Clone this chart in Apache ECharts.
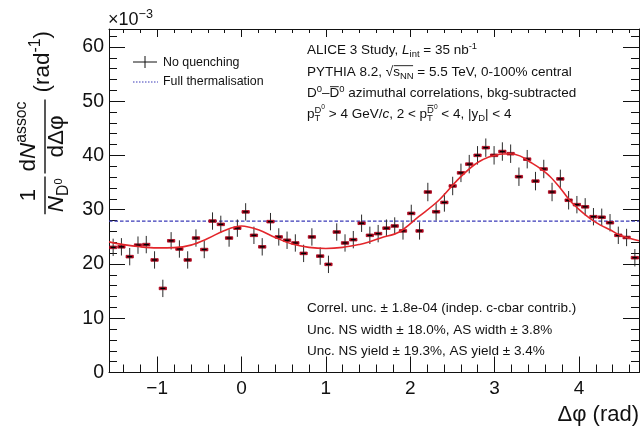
<!DOCTYPE html>
<html>
<head>
<meta charset="utf-8">
<script src="https://cdn.jsdelivr.net/npm/echarts@6/dist/echarts.min.js"></script>
<style>
  html, body { margin: 0; padding: 0; background: #fff; }
  #chart { width: 641px; height: 432px; }
</style>
</head>
<body>
<div id="chart"></div>
<script>
// Δφ histogram definition: 64 bins over [-π/2, 3π/2)
const PHI_MIN = -Math.PI / 2;
const PHI_MAX = 3 * Math.PI / 2;
const N_BINS = 64;

// D0–D0bar pair yield per bin, in units of 10^-3 rad^-1
const yields = [
  23.06, 23.16, 21.35, 23.47, 23.57, 20.74, 15.50, 24.27,
  22.76, 20.74, 24.78, 22.66, 27.91, 27.30, 24.78, 26.60,
  29.60, 25.28, 23.16, 27.80, 24.98, 24.37, 23.87, 21.95,
  24.98, 21.45, 19.93, 25.89, 23.87, 24.48, 27.50, 25.28,
  25.59, 26.60, 27.00, 26.09, 29.32, 26.09, 33.26, 29.62,
  31.34, 34.37, 36.79, 38.40, 40.02, 41.43, 40.02, 40.72,
  40.32, 36.08, 39.31, 35.27, 37.50, 33.26, 35.68, 31.74,
  30.93, 30.53, 28.71, 28.61, 27.60, 25.28, 24.88, 21.15
];
// statistical uncertainty per bin (10^-3 rad^-1)
const statErr = [
  1.6, 1.6, 1.6, 1.6, 1.6, 1.6, 1.6, 1.6,
  1.6, 1.6, 1.6, 1.6, 1.6, 1.6, 1.6, 1.6,
  1.6, 1.6, 1.6, 1.6, 1.6, 1.6, 1.6, 1.6,
  1.6, 1.6, 1.6, 1.6, 1.6, 1.6, 1.6, 1.6,
  1.6, 1.6, 1.6, 1.6, 1.6, 1.6, 1.7, 1.6,
  1.7, 1.7, 1.7, 1.7, 1.7, 1.7, 1.7, 1.7,
  1.7, 1.7, 1.7, 1.7, 1.7, 1.7, 1.7, 1.7,
  1.6, 1.6, 1.6, 1.6, 1.6, 1.6, 1.6, 1.6
];
// correlated uncertainty (boxes), 10^-3 rad^-1
const corrUnc = 0.18;

// fit to the distribution (baseline + near-side + away-side peaks)
const fitPhi = [-1.5708, -1.4, -1.2, -1.0, -0.8, -0.6, -0.4, -0.2, 0.0, 0.2, 0.4, 0.6, 0.8,
  1.0, 1.2, 1.4, 1.5, 1.65, 1.87, 2.1, 2.34, 2.58, 2.81, 3.06, 3.18, 3.30, 3.42, 3.54, 3.66,
  3.78, 3.89, 4.01, 4.13, 4.25, 4.37, 4.49, 4.61, 4.7124];
const fitVal = [24.07, 23.57, 23.16, 22.96, 23.01, 23.47, 24.68, 26.19, 27.0, 26.29, 24.88, 23.67, 23.06,
  22.86, 23.06, 23.6, 24.0, 24.8, 25.9, 28.71, 31.74, 35.78, 38.8, 40.22, 40.32, 39.92, 38.8, 37.6, 36.08,
  33.96, 31.74, 29.93, 28.41, 27.2, 26.29, 25.28, 24.68, 24.27];

// full thermalisation reference level
const thermalLevel = 27.9;

// axis ticks
const xMajor = [-1, 0, 1, 2, 3, 4];
const yMajor = [0, 10, 20, 30, 40, 50, 60];
const Y_MAX = 63.3;

const xMinor = [];
for (let v = -14; v <= 46; v += 2) if (v % 10 !== 0) xMinor.push(v / 10);
const yMinor = [];
for (let v = 2; v <= 62; v += 2) if (v % 10 !== 0) yMinor.push(v);

const binW = (PHI_MAX - PHI_MIN) / N_BINS;
const points = yields.map((y, i) => [PHI_MIN + (i + 0.5) * binW, y, statErr[i]]);
const fitData = fitPhi.map((x, i) => [x, fitVal[i]]);

// ---------- text helpers (sub/superscripts, overlines) ----------
const FONT = '"Liberation Sans", Arial, Helvetica, sans-serif';
const mctx = document.createElement('canvas').getContext('2d');
function tw(t, size, it) {
  mctx.font = (it ? 'italic ' : '') + size + 'px ' + FONT;
  return mctx.measureText(t).width;
}
function txt(t, x, yb, size, it) {
  return {
    type: 'text', x: x, y: yb - 0.35 * size, silent: true,
    style: { text: t, font: (it ? 'italic ' : '') + size + 'px ' + FONT, fill: '#111', align: 'left', verticalAlign: 'middle' }
  };
}
function hline(x1, x2, y, w) {
  return { type: 'line', silent: true, shape: { x1: x1, y1: y, x2: x2, y2: y }, style: { stroke: '#111', lineWidth: w || 1 } };
}
function compose(x, yb, size, parts, out) {
  let cx = x;
  for (let p of parts) {
    if (typeof p === 'string') p = { t: p };
    const start = cx;
    if (p.g) cx = compose(cx, yb, size, p.g, out);
    if (p.t) {
      out.push(txt(p.t, cx, yb, size, p.it));
      cx += tw(p.t, size, p.it);
    }
    if (p.over) out.push(hline(start + 0.5, cx - 0.5, yb - size * 0.84, 0.9));
    const ss = size * 0.7;
    let adv = 0;
    if (p.sup) adv = Math.max(adv, compose(cx, yb - size * 0.42, ss, p.sup, out) - cx);
    if (p.sub) adv = Math.max(adv, compose(cx, yb + size * 0.22, ss, p.sub, out) - cx);
    cx += adv;
  }
  return cx;
}
function frac(x, ybar, size, num, den, out) {
  const wn = compose(0, 0, size, num, []);
  const wd = compose(0, 0, size, den, []);
  const W = Math.max(wn, wd) + 4;
  compose(x + (W - wn) / 2, ybar - 0.36 * size, size, num, out);
  compose(x + (W - wd) / 2, ybar + 0.86 * size, size, den, out);
  out.push(hline(x, x + W, ybar, 1.4));
  return x + W;
}

const graphics = [];

// y-axis title, drawn horizontally then turned to read upward
(function () {
  const local = [];
  const S = 22.5;
  let lx = 0;
  lx = frac(lx, 45, S, ['1'], [{ t: 'N', it: true, sub: [{ t: 'D', sup: ['0'] }] }], local);
  lx += 3;
  lx = frac(lx, 45, S, ['d', { t: 'N', it: true, sup: ['assoc'] }], ['dΔφ'], local);
  lx += 7;
  lx = compose(lx, 51, S, ['(rad', { sup: ['-1'] }, ')'], local);
  graphics.push({ type: 'group', x: 0, y: 31 + lx, rotation: Math.PI / 2, children: local });
})();

// ×10^-3 multiplier
compose(108, 26, 18, ['×10', { sup: ['−3'] }], graphics);

// x-axis title
(function () {
  const w = compose(0, 0, 22, ['Δφ (rad)'], []);
  compose(639 - w, 423, 22, ['Δφ (rad)'], graphics);
})();

// legend
graphics.push({ type: 'line', silent: true, shape: { x1: 133, y1: 62, x2: 157, y2: 62 }, style: { stroke: '#111', lineWidth: 1 } });
graphics.push({ type: 'line', silent: true, shape: { x1: 145, y1: 56, x2: 145, y2: 68 }, style: { stroke: '#111', lineWidth: 1 } });
compose(163, 66.5, 12.4, ['No quenching'], graphics);
graphics.push({ type: 'line', silent: true, shape: { x1: 133, y1: 82, x2: 158, y2: 82 }, style: { stroke: '#3a3ab8', lineWidth: 1, lineDash: [1.5, 1.5] } });
compose(163, 86, 12.4, ['Full thermalisation'], graphics);

// analysis labels
const T = 13.5;
compose(307, 55, T, ['ALICE 3 Study, ', { t: 'L', it: true, sub: ['int'] }, ' = 35 nb', { sup: ['-1'] }], graphics);
compose(307, 77, T, ['PYTHIA 8.2, √', { g: [{ t: 's', sub: ['NN'] }], over: true }, ' = 5.5 TeV, 0-100% central'], graphics);
compose(307, 98, T, [{ t: 'D', sup: ['0'] }, '–', { t: 'D', over: true, sup: ['0'] }, ' azimuthal correlations, bkg-subtracted'], graphics);
compose(307, 119, T, [
  { t: 'p', sub: ['T'], sup: [{ t: 'D', sup: ['0'] }] }, ' > 4 GeV/', { t: 'c', it: true }, ', 2 < ',
  { t: 'p', sub: ['T'], sup: [{ t: 'D', over: true, sup: ['0'] }] }, ' < 4, |y', { sub: ['D'] }, '| < 4'
], graphics);

compose(307, 313, T, ['Correl. unc. ± 1.8e-04 (indep. c-cbar contrib.)'], graphics);
compose(307, 335, T, ['Unc. NS width ± 18.0%, AS width ± 3.8%'], graphics);
compose(307, 356, T, ['Unc. NS yield ± 19.3%, AS yield ± 3.4%'], graphics);

// ---------- axes ----------
const lineStyle = { color: '#111', width: 1 };
function xAx(pos, ticks, len, labels, line) {
  return {
    type: 'value', position: pos, min: PHI_MIN, max: PHI_MAX, gridIndex: 0,
    axisLine: { show: line, onZero: false, lineStyle: lineStyle },
    axisTick: { show: true, inside: true, length: len, customValues: ticks, lineStyle: lineStyle },
    axisLabel: labels ? {
      show: true, customValues: xMajor, margin: 7, fontSize: 19, fontFamily: FONT, color: '#111',
      formatter: v => (v < 0 ? '\u2212' + Math.abs(v) : String(v))
    } : { show: false },
    splitLine: { show: false }
  };
}
function yAx(pos, ticks, len, labels, line) {
  return {
    type: 'value', position: pos, min: 0, max: Y_MAX, gridIndex: 0,
    axisLine: { show: line, onZero: false, lineStyle: lineStyle },
    axisTick: { show: true, inside: true, length: len, customValues: ticks, lineStyle: lineStyle },
    axisLabel: labels ? { show: true, customValues: yMajor, margin: 5, fontSize: 19.5, fontFamily: FONT, color: '#111' } : { show: false },
    splitLine: { show: false }
  };
}

const chart = echarts.init(document.getElementById('chart'), null, { renderer: 'canvas' });
chart.setOption({
  animation: false,
  backgroundColor: '#fff',
  grid: { left: 109, right: 2, top: 29, bottom: 59.5, containLabel: false },
  xAxis: [
    xAx('bottom', xMajor, 16, true, true),
    xAx('bottom', xMinor, 8, false, false),
    xAx('top', xMajor, 8, false, true),
    xAx('top', xMinor, 4, false, false)
  ],
  yAxis: [
    yAx('left', yMajor, 16, true, true),
    yAx('left', yMinor, 8, false, false),
    yAx('right', yMajor, 16, false, true),
    yAx('right', yMinor, 8, false, false)
  ],
  series: [
    {
      name: 'Full thermalisation', type: 'line', xAxisIndex: 0, yAxisIndex: 0,
      data: [[PHI_MIN, thermalLevel], [PHI_MAX, thermalLevel]],
      showSymbol: false, silent: true,
      lineStyle: { color: '#3a3ab8', width: 1.2, type: [3.5, 2] }, z: 2
    },
    {
      name: 'No quenching', type: 'custom', xAxisIndex: 0, yAxisIndex: 0,
      data: points, z: 3,
      renderItem: function (params, api) {
        const x = api.value(0), y = api.value(1), e = api.value(2);
        const c = api.coord([x, y]);
        const top = api.coord([x, y + e]);
        const bot = api.coord([x, y - e]);
        const hw = api.size([binW, 0])[0] / 2;
        const bh = Math.max(api.size([0, corrUnc])[1], 1);
        return {
          type: 'group',
          children: [
            { type: 'rect', shape: { x: c[0] - hw + 0.5, y: c[1] - bh - 0.3, width: 2 * hw - 1, height: 2 * bh + 0.6 },
              style: { fill: '#c4001c', stroke: '#a30018', lineWidth: 0.8 } },
            { type: 'line', shape: { x1: c[0], y1: top[1], x2: c[0], y2: bot[1] },
              style: { stroke: '#2a2a2a', lineWidth: 1 } },
            { type: 'line', shape: { x1: c[0] - 2.5, y1: c[1], x2: c[0] + 2.5, y2: c[1] },
              style: { stroke: '#000', lineWidth: 1.3 } }
          ]
        };
      }
    },
    {
      name: 'fit', type: 'line', xAxisIndex: 0, yAxisIndex: 0,
      data: fitData, smooth: 0.35, showSymbol: false, silent: true,
      lineStyle: { color: '#e3262b', width: 1.6 }, z: 4
    }
  ],
  graphic: graphics
});
</script>
</body>
</html>
